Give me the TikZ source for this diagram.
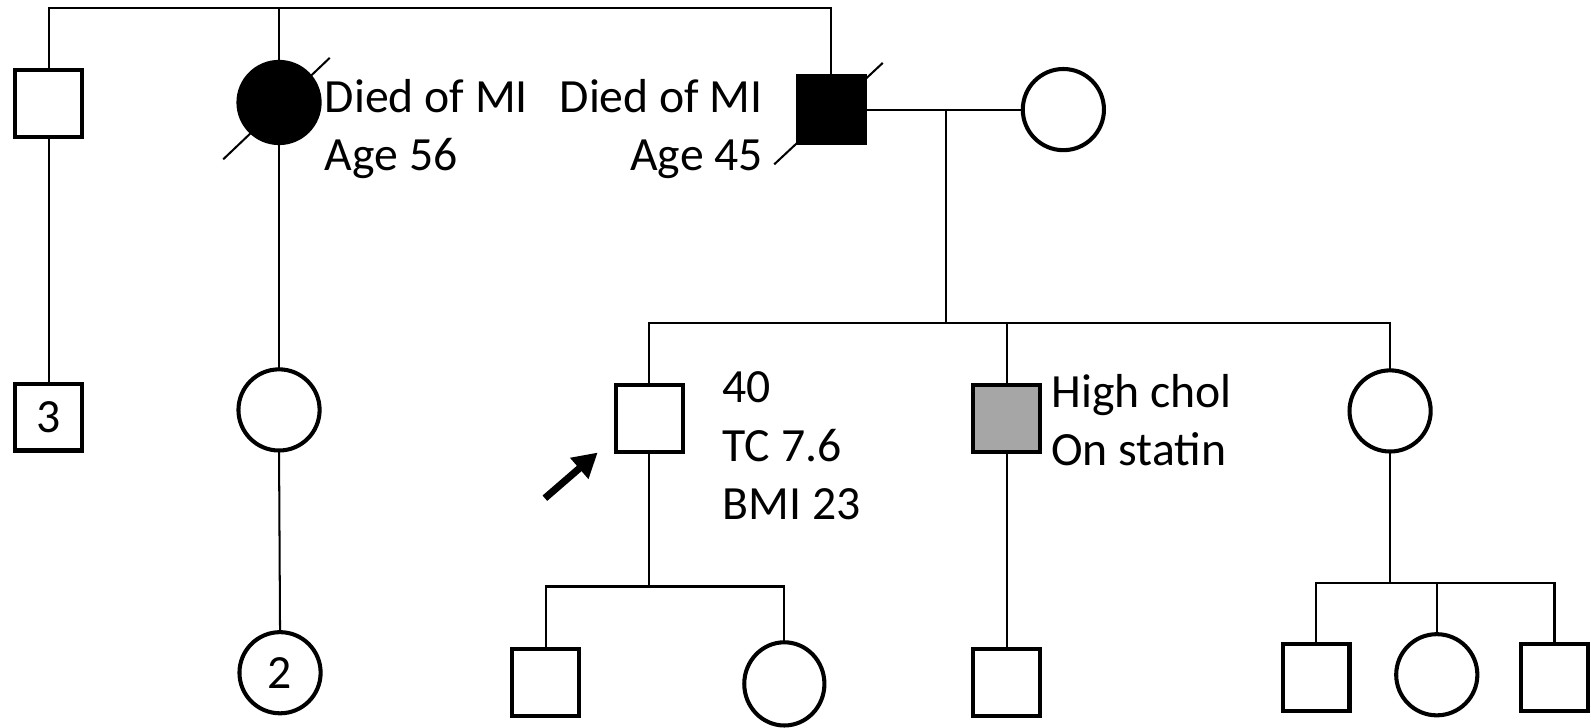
\documentclass[tikz,border=0pt]{standalone}
\usepackage{fontspec}
\setmainfont{Carlito}
\usetikzlibrary{arrows.meta,calc,shapes.geometric}
\definecolor{affgray}{RGB}{166,166,166}
\begin{document}
\begin{tikzpicture}[x=1pt,y=-1pt,
  male/.style={draw,rectangle,line width=4pt,minimum width=66pt,minimum height=66pt,inner sep=0pt,outer sep=0pt,font=\fontsize{47}{56}\selectfont},
  female/.style={draw,circle,line width=4pt,minimum size=80pt,inner sep=0pt,outer sep=0pt,font=\fontsize{47}{56}\selectfont},
  link/.style={line width=2pt},
  lbl/.style={inner sep=0pt,font=\fontsize{47}{56}\selectfont}]
\useasboundingbox (0,0) rectangle (1568,717);
\coordinate (top) at (0,8);
\coordinate (sib2) at (0,318);
\coordinate (sib3) at (0,578);
\coordinate (sib4) at (0,575);
% generation I
\node[male] (I1) at (48,102) {};
\node[female,fill=black] (I2) at (275,101) {};
\node[male,fill=black] (I3) at (819,108) {};
\node[female] (I4) at (1048,108) {};
% generation II
\node[male] (II1) at (48,411) {3};
\node[female] (II2) at (275,404) {};
\node[male] (II3) at (640,412) {};
\node[male,fill=affgray] (II4) at (992,412) {};
\node[female] (II5) at (1370,405) {};
% generation III
\node[female] (III1) at (276,663) {2};
\node[male] (III2) at (538,673) {};
\node[female,ellipse,minimum width=79pt,minimum height=82pt] (III3) at (773,674) {};
\node[male] (III4) at (992,673) {};
\node[male] (III5) at (1297,668) {};
\node[female] (III6) at (1416,665) {};
\node[male] (III7) at (1532,668) {};
% top sibship
\draw[link] (I1.north) |- (I3.north |- top) -- (I3.north);
\draw[link] (I2.north) -- (I2.north |- top);
% mating and descent
\coordinate (m1) at (932,108);
\draw[link] (I3.east) -- (I4.west);
\draw[link] (m1) -- (m1 |- sib2);
\draw[link] (II3.north) |- (II5.north |- sib2) -- (II5.north);
\draw[link] (II4.north) -- (II4.north |- sib2);
% left lines
\draw[link] (I1.south) -- (II1.north);
\draw[link] (I2.south) -- (II2.north);
\draw[link] (II2.south) -- (III1.north);
% proband children
\draw[link] (II3.south) -- (II3.south |- sib3);
\draw[link] (III2.north) |- (III3.north |- sib3) -- (III3.north);
\draw[link] (II4.south) -- (III4.north);
% II5 children
\draw[link] (II5.south) -- (II5.south |- sib4);
\draw[link] (III5.north) |- (III7.north |- sib4) -- (III7.north);
\draw[link] (III6.north) -- (III6.north |- sib4);
% deceased slashes
\coordinate (d1a) at ($(I2)+(-55,56)$);
\coordinate (d1b) at ($(I2)+(50,-44)$);
\draw[link] (d1a) -- (d1b);
\coordinate (d2a) at ($(I3)+(-56,54)$);
\coordinate (d2b) at ($(I3)+(51,-46)$);
\draw[link] (d2a) -- (d2b);
% proband arrow
\coordinate (arrA) at (537,491);
\coordinate (arrB) at (589,446);
\draw[line width=7pt,-{Triangle[length=24pt,width=26pt]}] (arrA) -- (arrB);
% labels
\node[lbl,anchor=base west] (t1) at (320,111) {Died of MI};
\node[lbl,anchor=base west] (t2) at (320,168) {Age 56};
\node[lbl,anchor=base east] (t3) at (752,111) {Died of MI};
\node[lbl,anchor=base east] (t4) at (752,168) {Age 45};
\node[lbl,anchor=base west] (t5) at (712,397) {40};
\node[lbl,anchor=base west] (t6) at (712,455) {TC 7.6};
\node[lbl,anchor=base west] (t7) at (712,512) {BMI 23};
\node[lbl,anchor=base west] (t8) at (1036,402) {High chol};
\node[lbl,anchor=base west] (t9) at (1036,459) {On statin};
\end{tikzpicture}
\end{document}
